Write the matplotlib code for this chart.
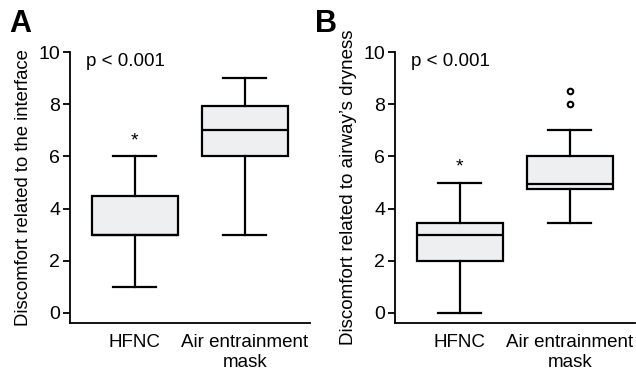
import matplotlib
matplotlib.use("Agg")
import matplotlib.pyplot as plt

plt.rcParams["font.family"] = ["Liberation Sans", "DejaVu Sans"]

groups = ["HFNC", "Air entrainment\nmask"]

# panel A: discomfort related to the interface
a_whislo = [1, 3]
a_q1 = [3, 6]
a_med = [3, 7]
a_q3 = [4.5, 7.95]
a_whishi = [6, 9]
a_fliers = [[], []]
a_star = 6.6

# panel B: discomfort related to airway's dryness
b_whislo = [0, 3.45]
b_q1 = [2, 4.75]
b_med = [3, 4.95]
b_q3 = [3.45, 6]
b_whishi = [5, 7]
b_fliers = [[], [8, 8.5]]
b_star = 5.6

FILL = "#eeeff1"


def stats(lo, q1, med, q3, hi, fl):
    return [dict(whislo=lo[i], q1=q1[i], med=med[i], q3=q3[i], whishi=hi[i],
                 fliers=fl[i], label=groups[i]) for i in range(len(lo))]


def panel(ax, st, star, ylabel, label_size, letter, letter_x):
    ax.bxp(st, positions=[1, 2], widths=0.78, patch_artist=True, showcaps=True,
           boxprops=dict(facecolor=FILL, edgecolor="black", linewidth=1.6),
           medianprops=dict(color="black", linewidth=1.6),
           whiskerprops=dict(color="black", linewidth=1.6),
           capprops=dict(color="black", linewidth=1.6),
           flierprops=dict(marker="o", markersize=4, markerfacecolor="white",
                           markeredgecolor="black", markeredgewidth=1.5))
    ax.set_xlim(0.41, 2.59)
    ax.set_ylim(-0.38, 10)
    ax.set_yticks([0, 2, 4, 6, 8, 10])
    ax.spines["top"].set_visible(False)
    ax.spines["right"].set_visible(False)
    ax.spines["left"].set_linewidth(1.3)
    ax.spines["bottom"].set_linewidth(1.3)
    ax.tick_params(axis="y", length=5, width=1.3, labelsize=14, pad=2)
    ax.tick_params(axis="x", length=0, labelsize=13.5, pad=8)
    ax.set_ylabel(ylabel, fontsize=label_size)
    ax.yaxis.set_label_coords(-0.16, 0.5)
    ax.text(0.56, 9.65, "p < 0.001", fontsize=13.5, va="center", ha="left")
    ax.text(1, star, "*", fontsize=14, ha="center", va="center")
    ax.text(letter_x, 1.05, letter, transform=ax.transAxes, fontsize=22,
            fontweight="bold", va="bottom", ha="left")


fig = plt.figure(figsize=(6.36, 3.72), dpi=100)
ax1 = fig.add_axes([0.110, 0.132, 0.377, 0.728])
ax2 = fig.add_axes([0.621, 0.132, 0.377, 0.728])

panel(ax1, stats(a_whislo, a_q1, a_med, a_q3, a_whishi, a_fliers), a_star,
      "Discomfort related to the interface", 13.3, "A", -0.255)
panel(ax2, stats(b_whislo, b_q1, b_med, b_q3, b_whishi, b_fliers), b_star,
      "Discomfort related to airway\u2019s dryness", 13.5, "B", -0.333)

fig.savefig("out.png", dpi=100)
